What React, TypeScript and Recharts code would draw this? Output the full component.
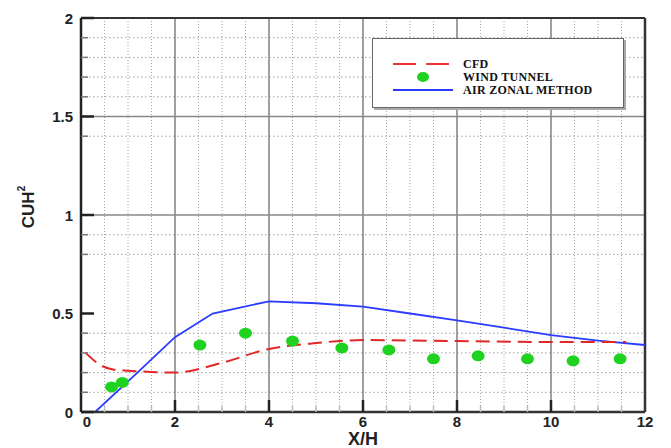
import {
  ComposedChart, Line, Scatter, XAxis, YAxis, ReferenceLine, Legend, Label,
} from "recharts";

// CFD (red dashed)
const CFD_X = [0.1, 0.4, 0.7, 1, 2, 3, 4, 5, 6, 8, 10, 11.6];
const CFD_Y = [0.3, 0.24, 0.215, 0.21, 0.2, 0.25, 0.32, 0.35, 0.365, 0.36, 0.355, 0.355];

// wind tunnel (green dots)
const WT_X = [0.65, 0.88, 2.53, 3.5, 4.5, 5.55, 6.55, 7.5, 8.45, 9.5, 10.47, 11.47];
const WT_Y = [0.127, 0.15, 0.34, 0.4, 0.36, 0.325, 0.315, 0.27, 0.285, 0.27, 0.26, 0.27];

// air zonal method (blue)
const AZ_X = [0.3, 1.2, 2, 2.8, 4, 5, 6, 7, 8, 9, 10, 11, 12];
const AZ_Y = [0, 0.2, 0.38, 0.5, 0.562, 0.552, 0.535, 0.5, 0.465, 0.428, 0.39, 0.362, 0.34];

const X_TICKS = [0, 0.5, 1, 1.5, 2, 2.5, 3, 3.5, 4, 4.5, 5, 5.5, 6, 6.5, 7, 7.5, 8, 8.5, 9, 9.5, 10, 10.5, 11, 11.5, 12];
const X_LABELS = [0, 2, 4, 6, 8, 10, 12];
const Y_LABELS = [0, 0.5, 1, 1.5, 2];
const Y_MINOR = [0.1, 0.2, 0.3, 0.4, 0.8, 0.9, 1.4, 1.6, 1.7, 1.8, 1.9];
const Y_TICKS = [...Y_LABELS, ...Y_MINOR].sort((a, b) => a - b);

const V_MAJOR = [2, 4, 6, 8, 10];
const V_MINOR = [0.5, 1, 1.5, 2.5, 3, 3.5, 4.5, 5, 5.5, 6.5, 7, 7.5, 8.5, 9, 9.5, 10.5, 11, 11.5];
const H_MAJOR = [1, 1.5];

const cfd = CFD_X.map((x, i) => ({ x, y: CFD_Y[i] }));
const wind = WT_X.map((x, i) => ({ x, y: WT_Y[i] }));
const zonal = AZ_X.map((x, i) => ({ x, y: AZ_Y[i] }));

const TICK_FONT = { fontFamily: "'Liberation Sans', Arial, sans-serif", fontWeight: 700, fontSize: 15, fill: "#222" };
const TICK_MARGIN = 8;

function YTick(props: any) {
  const { x, y, payload } = props;
  const v = payload.value;
  const axisX = x + TICK_MARGIN;
  const major = Y_LABELS.includes(v);
  return (
    <g>
      <line x1={axisX} x2={axisX + (major ? 13 : 7)} y1={y} y2={y}
        stroke={major ? "#222" : "#777"} strokeWidth={major ? 2.5 : 1.5} />
      {major && (
        <text x={x} y={y} textAnchor="end" dominantBaseline="central" {...TICK_FONT}>{v}</text>
      )}
    </g>
  );
}

function XTick(props: any) {
  const { x, y, payload } = props;
  const v = payload.value;
  const axisY = y - 4;
  const major = X_LABELS.includes(v);
  return (
    <g>
      {v > 0 && v < 12 && (
        <line x1={x} x2={x} y1={axisY} y2={axisY - (major ? 12 : 6)}
          stroke={major ? "#222" : "#bbb"} strokeWidth={major ? 2.5 : 1.5} />
      )}
      {major && (
        <text x={x + (v === 0 ? 6 : 0)} y={y} dy="0.71em" textAnchor="middle" {...TICK_FONT}>{v}</text>
      )}
    </g>
  );
}

function WindDot(props: any) {
  const { cx, cy } = props;
  return <ellipse cx={cx} cy={cy} rx={6.5} ry={5.5} fill="#1fd21f" />;
}

function YTitle(props: any) {
  const vb = props.viewBox || { x: 0, y: 18, width: 81, height: 394 };
  const cx = vb.x + 28;
  const cy = vb.y + vb.height / 2 - 8;
  return (
    <text transform={`translate(${cx},${cy}) rotate(-90)`} textAnchor="middle" dominantBaseline="central"
      fontFamily="'Liberation Sans', Arial, sans-serif" fontWeight={700} fontSize={17} fill="#222">
      CUH<tspan fontSize={10} dy={-7}>2</tspan>
    </text>
  );
}

function XTitle(props: any) {
  const vb = props.viewBox || { x: 81, y: 412, width: 564, height: 36 };
  return (
    <text x={vb.x + vb.width / 2} y={vb.y + vb.height - 3} textAnchor="middle"
      fontFamily="'Liberation Sans', Arial, sans-serif" fontWeight={700} fontSize={18} fill="#222">
      X/H
    </text>
  );
}

const LEGEND_ITEMS = ["CFD", "WIND TUNNEL", "AIR ZONAL METHOD"];

function LegendBox() {
  const rowTop = [25, 38, 51];
  return (
    <div style={{
      position: "relative", width: 250, height: 68, background: "#fff",
      border: "1.5px solid #666", boxShadow: "2px 2px 0 #aaa",
    }}>
      {LEGEND_ITEMS.map((name, i) => (
        <div key={name} style={{ position: "absolute", left: 0, top: rowTop[i] - 6, height: 12, width: 250 }}>
          <svg width={90} height={12} style={{ position: "absolute", left: 0, top: 0 }}>
            {i === 0 && <line x1={20} x2={80} y1={6} y2={6} stroke="#e33" strokeWidth={2} strokeDasharray="23 10" />}
            {i === 1 && <ellipse cx={50} cy={6} rx={6} ry={5} fill="#1fd21f" />}
            {i === 2 && <line x1={20} x2={80} y1={6} y2={6} stroke="#2a3cff" strokeWidth={2} />}
          </svg>
          <span style={{
            position: "absolute", left: 90, top: 0, lineHeight: "12px", height: 12,
            fontFamily: "'Liberation Serif', 'Times New Roman', serif", fontWeight: 700,
            fontSize: 12, letterSpacing: 0.3, color: "#111", whiteSpace: "nowrap",
          }}>{name}</span>
        </div>
      ))}
    </div>
  );
}

export default function App() {
  return (
    <div style={{ position: "absolute", left: 0, top: 0, width: 671, height: 448, background: "#fff" }}>
      <ComposedChart width={671} height={448} margin={{ top: 18, right: 26, left: 0, bottom: 0 }}>
        <XAxis dataKey="x" type="number" domain={[0, 12]} ticks={X_TICKS} interval={0} height={36}
          axisLine={{ stroke: "#333", strokeWidth: 2.5 }} tickLine={false} tickSize={0} tickMargin={4}
          tick={<XTick />} allowDataOverflow>
          <Label content={<XTitle />} />
        </XAxis>
        <YAxis type="number" domain={[0, 2]} ticks={Y_TICKS} interval={0} width={81}
          axisLine={{ stroke: "#222", strokeWidth: 2.5 }} tickLine={false} tickSize={0} tickMargin={TICK_MARGIN}
          tick={<YTick />} allowDataOverflow>
          <Label content={<YTitle />} />
        </YAxis>

        {V_MINOR.map((v) => (
          <ReferenceLine key={`vm${v}`} x={v} stroke="#a8a8a8" strokeWidth={1} strokeDasharray="1 2" />
        ))}
        {Y_MINOR.map((v) => (
          <ReferenceLine key={`hm${v}`} y={v} stroke="#a0a0a0" strokeWidth={1} strokeDasharray="1.5 2.5" />
        ))}
        {V_MAJOR.map((v) => (
          <ReferenceLine key={`vj${v}`} x={v} stroke="#888" strokeWidth={1.6} />
        ))}
        {H_MAJOR.map((v) => (
          <ReferenceLine key={`hj${v}`} y={v} stroke="#888" strokeWidth={1.6} />
        ))}
        <ReferenceLine y={2} stroke="#333" strokeWidth={2} />
        <ReferenceLine x={12} stroke="#333" strokeWidth={2.5} />

        <Line data={zonal} dataKey="y" type="linear" stroke="#2a3cff" strokeWidth={1.8}
          dot={false} activeDot={false} isAnimationActive={false} legendType="none" />
        <Line data={cfd} dataKey="y" type="monotone" stroke="#e02828" strokeWidth={2}
          strokeDasharray="14 7" dot={false} activeDot={false} isAnimationActive={false} legendType="none" />
        <Scatter data={wind} dataKey="y" shape={<WindDot />} isAnimationActive={false} legendType="none" />

        <Legend layout="vertical" align="center" verticalAlign="middle" content={() => <LegendBox />}
          wrapperStyle={{ position: "absolute", left: 372, top: 38, width: 253, height: 71 }} />
      </ComposedChart>
    </div>
  );
}
